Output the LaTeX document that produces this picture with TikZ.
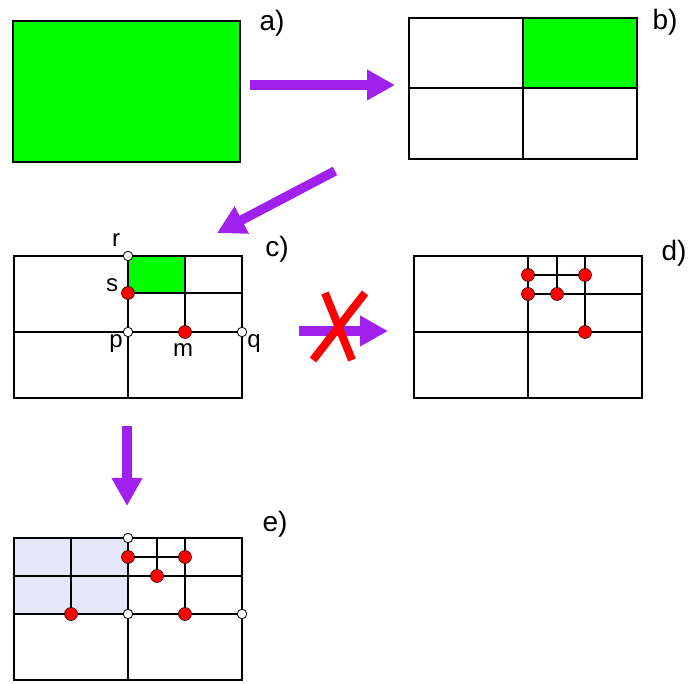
\documentclass[tikz,border=0pt]{standalone}
\usepackage{fontspec}
\setmainfont{Liberation Sans}
\usetikzlibrary{arrows.meta}
\definecolor{arrowpurple}{HTML}{A020F0}
\definecolor{boxgreen}{HTML}{00FF00}
\definecolor{lav}{HTML}{E6E6FA}
\tikzset{
  grid/.style={draw=black,line width=1.6pt},
  thin grid/.style={draw=black,line width=1.4pt},
  bigarrow/.style={draw=arrowpurple,line width=9.5pt,-{Triangle[length=28pt,width=29pt]}},
  reddot/.style={circle,draw=black,line width=0.5pt,fill=red,minimum size=13pt,inner sep=0pt},
  whitedot/.style={circle,draw=black,line width=0.8pt,fill=white,minimum size=9.5pt,inner sep=0pt},
  panellabel/.style={font=\fontsize{28}{28}\selectfont,inner sep=0pt},
  ptlabel/.style={font=\fontsize{24}{24}\selectfont,inner sep=0pt,anchor=base},
  cross/.style={draw=red,line width=8pt}
}
\begin{document}
\begin{tikzpicture}[x=1pt,y=-1pt]
\useasboundingbox[fill=white] (0,0) rectangle (689,684);

% ---- a)
\fill[boxgreen] (13,21) rectangle (240,162);
\draw[grid] (13,21) rectangle (240,162);
\node[panellabel] (la) at (272,23) {a)};

% ---- b)
\fill[boxgreen] (523,18) rectangle (637,88);
\draw[grid] (409,18) rectangle (637,159);
\draw[thin grid] (523,18) -- (523,159);
\draw[thin grid] (409,88) -- (637,88);
\draw[grid] (523,18) rectangle (637,88);
\node[panellabel] (lb) at (665,22) {b)};

% ---- c)
\fill[boxgreen] (128,256) rectangle (185,293);
\draw[grid] (14,256) rectangle (242,398);
\draw[thin grid] (128,256) -- (128,398);
\draw[thin grid] (14,332) -- (242,332);
\draw[thin grid] (185,256) -- (185,332);
\draw[thin grid] (128,293) -- (242,293);
\node[whitedot] (r) at (128,256) {};
\node[reddot] (s) at (128,293) {};
\node[whitedot] (p) at (128,332) {};
\node[reddot] (m) at (185,332) {};
\node[whitedot] (q) at (242,332) {};
\node[ptlabel] (lr) at (116,247) {r};
\node[ptlabel] (ls) at (112,292) {s};
\node[ptlabel] (lp) at (116,348) {p};
\node[ptlabel] (lm) at (183,357) {m};
\node[ptlabel] (lq) at (254,348) {q};
\node[panellabel] (lc) at (277,249) {c)};

% ---- d)
\draw[grid] (414,256) rectangle (642,398);
\draw[thin grid] (528,256) -- (528,398);
\draw[thin grid] (414,332) -- (642,332);
\draw[thin grid] (585,256) -- (585,332);
\draw[thin grid] (528,294) -- (642,294);
\draw[thin grid] (557,256) -- (557,294);
\draw[thin grid] (528,275) -- (585,275);
\node[reddot] (d1) at (528,275) {};
\node[reddot] (d2) at (585,275) {};
\node[reddot] (d3) at (528,294) {};
\node[reddot] (d4) at (557,294) {};
\node[reddot] (d5) at (585,332) {};
\node[panellabel] (ld) at (674,253) {d)};

% ---- e)
\fill[lav] (14,538) rectangle (128,614);
\draw[grid] (14,538) rectangle (242,680);
\draw[thin grid] (128,538) -- (128,680);
\draw[thin grid] (14,614) -- (242,614);
\draw[thin grid] (71,538) -- (71,614);
\draw[thin grid] (14,576) -- (242,576);
\draw[thin grid] (185,538) -- (185,614);
\draw[thin grid] (157,538) -- (157,576);
\draw[thin grid] (128,557) -- (185,557);
\node[whitedot] (e1) at (128,538) {};
\node[reddot] (e2) at (128,557) {};
\node[reddot] (e3) at (185,557) {};
\node[reddot] (e4) at (157,576) {};
\node[reddot] (e5) at (71,614) {};
\node[whitedot] (e6) at (128,614) {};
\node[reddot] (e7) at (185,614) {};
\node[whitedot] (e8) at (242,614) {};
\node[panellabel] (le) at (275,524) {e)};

% ---- arrows
\coordinate (ab1) at (250,85);
\coordinate (ab2) at (395,85);
\draw[bigarrow] (ab1) -- (ab2);
\coordinate (bc1) at (335,171);
\coordinate (bc2) at (217,233);
\draw[bigarrow] (bc1) -- (bc2);
\coordinate (cd1) at (299,331);
\coordinate (cd2) at (388,331);
\draw[bigarrow] (cd1) -- (cd2);
\coordinate (ce1) at (127,426);
\coordinate (ce2) at (127,506);
\draw[bigarrow] (ce1) -- (ce2);

% ---- red cross
\coordinate (x1) at (325,293);
\coordinate (x2) at (352,360);
\coordinate (x3) at (365,293);
\coordinate (x4) at (313,360);
\draw[cross] (x1) -- (x2);
\draw[cross] (x3) -- (x4);
\end{tikzpicture}
\end{document}
